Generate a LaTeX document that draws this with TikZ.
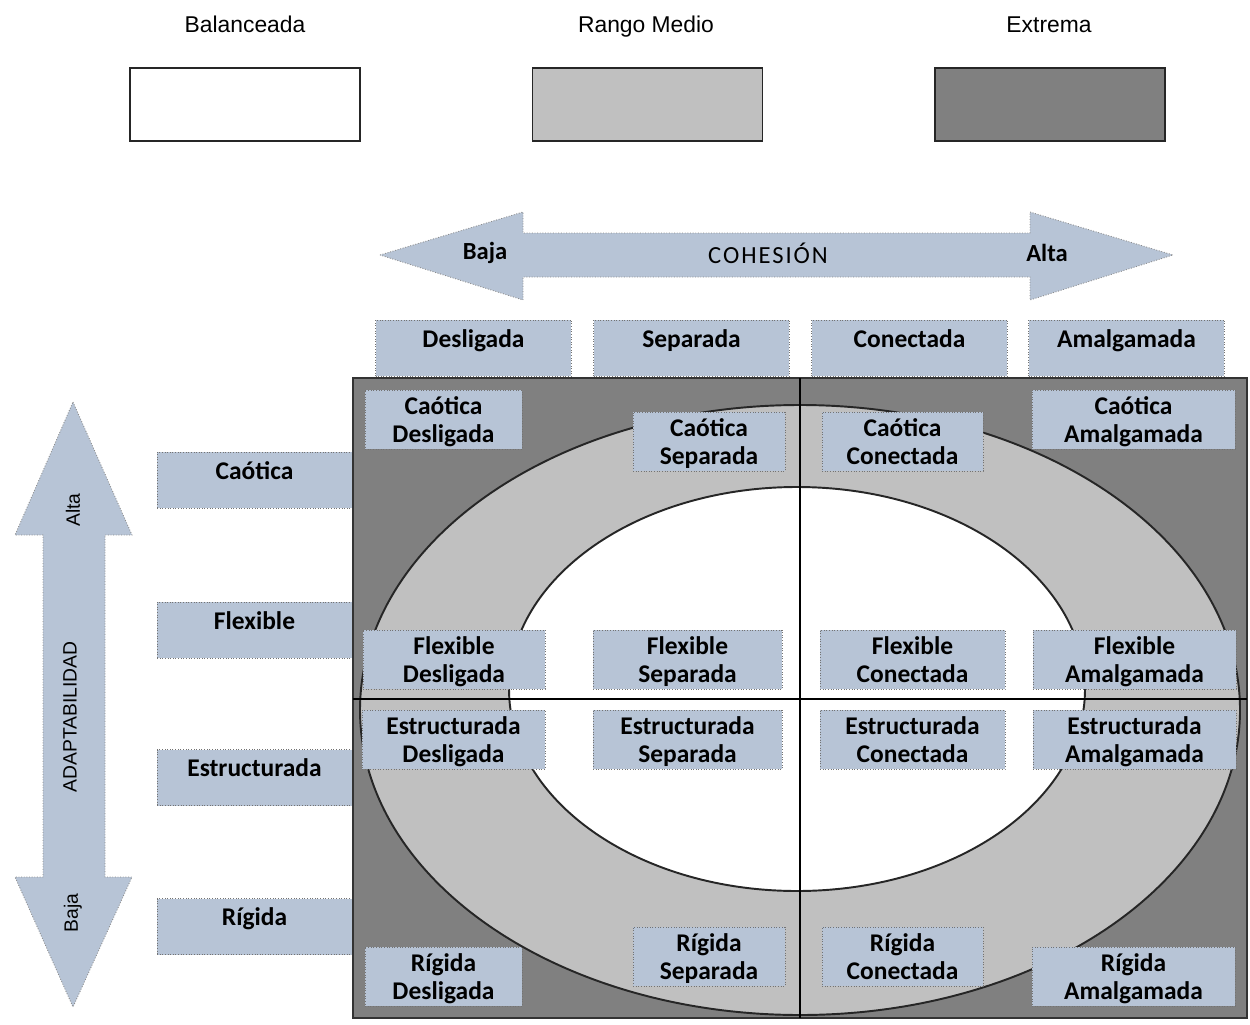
\documentclass[tikz,border=0pt]{standalone}
\usepackage{fontspec}
\setmainfont{Carlito}
\newfontfamily\leyenda{Liberation Sans}
\newfontfamily\ancho{Carlito}[LetterSpace=8]
\usetikzlibrary{math,calc}

\definecolor{extrema}{gray}{0.5}
\definecolor{medio}{gray}{0.753}
\definecolor{caja}{RGB}{183,196,214}

\begin{document}
\begin{tikzpicture}[x=0.02cm,y=-0.02cm,thick,
	celda/.style={draw=black!55,densely dotted,line width=0.5pt,fill=caja,
		inner sep=0pt,align=center,text depth=0pt,
		font=\bfseries\fontsize{14.5}{16}\selectfont},
	cabeza/.style={celda,minimum width=3.92cm,minimum height=1.12cm,
		text height=10pt,text depth=11pt},
	flecha/.style={fill=caja,draw=black!45,densely dotted,line width=0.5pt},
	titulo/.style={anchor=base,font=\leyenda\fontsize{13}{15}\selectfont},
	muestra/.style={draw=black!85,line width=1.1pt,minimum width=4.6cm,minimum height=1.46cm}]

\tikzmath{
	real	\cx, \cy, \rx, \ry;
	\cx = 800;
	\cy = 710;
	\rx = 440;
	\ry = 305;
	real	\ix, \iy, \sx, \sy;
	\ix = 797;
	\iy = 689;
	\sx = 288;
	\sy = 202;
}

\useasboundingbox (0,0) rectangle (1250,1024);

% leyenda
\node[titulo] (tbal) at (245,33) {Balanceada};
\node[titulo] (tmed) at (646,33) {Rango Medio};
\node[titulo] (text) at (1049,33) {Extrema};
\node[muestra,fill=white] (bal) at (245,104.5) {};
\node[muestra,fill=medio] (med) at (647.5,104.5) {};
\node[muestra,fill=extrema] (ext) at (1050,104.5) {};

% flechas
\draw[flecha] (380,255)--(523,212)--(523,233)--(1030,233)--(1030,212)--(1173,255)
	--(1030,300)--(1030,277)--(523,277)--(523,300)--cycle;
\node[font=\bfseries\fontsize{14}{15}\selectfont] (cbaja) at (485,253) {Baja};
\node[font=\ancho\fontsize{14}{15}\selectfont] (coh) at (768,253) {COHESIÓN};
\node[font=\bfseries\fontsize{14}{15}\selectfont] (calta) at (1047,253) {Alta};

\draw[flecha] (73,402)--(132,535)--(105,535)--(105,877)--(132,877)--(73,1007)
	--(15,877)--(43,877)--(43,535)--(15,535)--cycle;
\node[rotate=90,font=\leyenda\fontsize{11}{12}\selectfont] (aalta) at (73,510) {Alta};
\node[rotate=90,font=\leyenda\fontsize{11}{12}\selectfont] (adap) at (70,717) {ADAPTABILIDAD};
\node[rotate=90,font=\leyenda\fontsize{11}{12}\selectfont] (abaja) at (73,913) {Baja};

% cabeceras
\node[cabeza] (hd) at (473.5,348) {Desligada};
\node[cabeza] (hs) at (691.5,348) {Separada};
\node[cabeza] (hc) at (909.5,348) {Conectada};
\node[cabeza] (ha) at (1126.5,348) {Amalgamada};

\node[cabeza,minimum width=3.9cm] (vc) at (254.5,480) {Caótica};
\node[cabeza,minimum width=3.9cm] (vf) at (254.5,630) {Flexible};
\node[cabeza,minimum width=3.9cm] (ve) at (254.5,777.5) {Estructurada};
\node[cabeza,minimum width=3.9cm] (vr) at (254.5,926.5) {Rígida};

% modelo
\draw[fill=extrema,draw=black!80,line width=1.1pt] (353,378) rectangle (1247,1018);
\draw[fill=medio,draw=black!85,line width=1.1pt] (\cx,\cy) ellipse [x radius=\rx, y radius=\ry];
\draw[fill=white,draw=black!85,line width=1.1pt] (\ix,\iy) ellipse [x radius=\sx, y radius=\sy];
\draw[line width=1.1pt] (800,378)--(800,1018);
\draw[line width=1.1pt] (353,699)--(1247,699);

\tikzset{every node/.append style={minimum height=1.18cm}}
\node[celda,minimum width=3.14cm] (cd) at (443.5,419.5) {Caótica\\Desligada};
\node[celda,minimum width=3.04cm] (cs) at (709,441.5) {Caótica\\Separada};
\node[celda,minimum width=3.22cm] (cc) at (902.5,441.5) {Caótica\\Conectada};
\node[celda,minimum width=4.06cm] (ca) at (1133.5,419.5) {Caótica\\Amalgamada};

\node[celda,minimum width=3.64cm] (fd) at (454,659.5) {Flexible\\Desligada};
\node[celda,minimum width=3.78cm] (fs) at (687.5,659.5) {Flexible\\Separada};
\node[celda,minimum width=3.7cm] (fc) at (912.5,659.5) {Flexible\\Conectada};
\node[celda,minimum width=4.06cm] (fa) at (1134.5,659.5) {Flexible\\Amalgamada};

\node[celda,minimum width=3.66cm] (ed) at (453.5,739.5) {Estructurada\\Desligada};
\node[celda,minimum width=3.78cm] (es) at (687.5,739.5) {Estructurada\\Separada};
\node[celda,minimum width=3.7cm] (ec) at (912.5,739.5) {Estructurada\\Conectada};
\node[celda,minimum width=4.06cm] (ea) at (1134.5,739.5) {Estructurada\\Amalgamada};

\node[celda,minimum width=3.14cm] (rd) at (443.5,976.5) {Rígida\\Desligada};
\node[celda,minimum width=3.04cm] (rs) at (709,956.5) {Rígida\\Separada};
\node[celda,minimum width=3.22cm] (rc) at (902.5,956.5) {Rígida\\Conectada};
\node[celda,minimum width=4.06cm] (ra) at (1133.5,976.5) {Rígida\\Amalgamada};

\end{tikzpicture}
\end{document}
